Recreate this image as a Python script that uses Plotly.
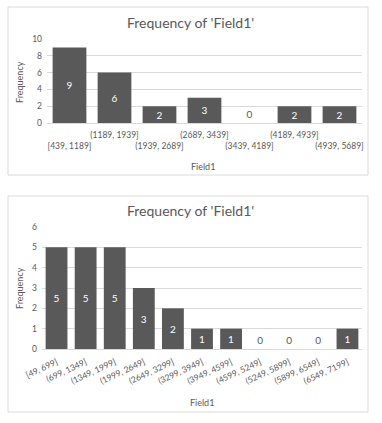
import plotly.graph_objects as go

# Chart 1
bins1 = ["[439, 1189]", "(1189, 1939]", "(1939, 2689]", "(2689, 3439]",
         "(3439, 4189]", "(4189, 4939]", "(4939, 5689]"]
freq1 = [9, 6, 2, 3, 0, 2, 2]

# Chart 2
bins2 = ["[49, 699]", "(699, 1349]", "(1349, 1999]", "(1999, 2649]",
         "(2649, 3299]", "(3299, 3949]", "(3949, 4599]", "(4599, 5249]",
         "(5249, 5899]", "(5899, 6549]", "(6549, 7199]"]
freq2 = [5, 5, 5, 3, 2, 1, 1, 0, 0, 0, 1]

title_text = "Frequency of 'Field1'"
xlabel = "Field1"
ylabel = "Frequency"

W, H = 382, 423
def px(x):
    return x / W
def py(y):
    return 1 - y / H

FONT = "Lato, Carlito, Calibri, sans-serif"
BAR = "#595959"
GRID = "#d9d9d9"
TXT = "#595959"

fig = go.Figure()

def pos(vals):
    return ["outside" if v == 0 else "inside" for v in vals]

for xs, ys, xa, ya in [(bins1, freq1, "x", "y"), (bins2, freq2, "x2", "y2")]:
    fig.add_trace(go.Bar(
        x=list(range(len(xs))), y=ys, xaxis=xa, yaxis=ya,
        marker=dict(color=BAR, line=dict(width=0)),
        text=[str(v) for v in ys], textposition=pos(ys), textangle=0,
        insidetextanchor="middle", cliponaxis=False,
        textfont=dict(color=TXT, size=10, family=FONT),
        insidetextfont=dict(color="white", size=10, family=FONT),
        outsidetextfont=dict(color=TXT, size=10, family=FONT),
        showlegend=False, hoverinfo="skip",
    ))

tick1 = [("<br>" + b) if i % 2 == 0 else b for i, b in enumerate(bins1)]

ann = dict(xref="paper", yref="paper", showarrow=False, xanchor="center", yanchor="middle")
TF = dict(size=8.5, color=TXT)

fig.update_layout(
    width=W, height=H,
    margin=dict(l=0, r=0, t=0, b=0, autoexpand=False),
    paper_bgcolor="white", plot_bgcolor="white",
    font=dict(family=FONT, color=TXT, size=9),
    bargap=0.25,
    uniformtext=dict(minsize=8, mode="show"),
    xaxis=dict(domain=[px(47), px(362)], range=[-0.5, len(bins1) - 0.5], anchor="y",
               automargin=False, ticklabelstandoff=4,
               tickmode="array", tickvals=list(range(len(bins1))), ticktext=tick1,
               tickangle=0, showgrid=False, zeroline=False, showline=True,
               linecolor=GRID, ticks="", tickfont=TF),
    yaxis=dict(domain=[py(123), py(39)], range=[0, 10], dtick=2, anchor="x",
               automargin=False, ticklabelstandoff=4,
               showgrid=True, gridcolor=GRID, zeroline=False, showline=False,
               ticks="", tickfont=TF),
    xaxis2=dict(domain=[px(42), px(362)], range=[-0.5, len(bins2) - 0.5], anchor="y2",
                automargin=False, ticklabelstandoff=4,
                tickmode="array", tickvals=list(range(len(bins2))), ticktext=bins2,
                tickangle=-25, showgrid=False, zeroline=False, showline=True,
                linecolor=GRID, ticks="", tickfont=TF),
    yaxis2=dict(domain=[py(349), py(227)], range=[0, 6], dtick=1, anchor="x2",
                automargin=False, ticklabelstandoff=4,
                showgrid=True, gridcolor=GRID, zeroline=False, showline=False,
                ticks="", tickfont=TF),
    shapes=[
        dict(type="rect", xref="paper", yref="paper",
             x0=px(8), x1=px(368), y0=py(175), y1=py(7),
             line=dict(color="#d9d9d9", width=1), layer="below"),
        dict(type="rect", xref="paper", yref="paper",
             x0=px(8), x1=px(368), y0=py(412), y1=py(196),
             line=dict(color="#d9d9d9", width=1), layer="below"),
    ],
    annotations=[
        dict(text=title_text, x=px(190), y=py(23),
             font=dict(size=14, color=TXT, family=FONT), **ann),
        dict(text=title_text, x=px(190), y=py(211),
             font=dict(size=14, color=TXT, family=FONT), **ann),
        dict(text=xlabel, x=px(203), y=py(166),
             font=dict(size=9, color=TXT, family=FONT), **ann),
        dict(text=xlabel, x=px(202), y=py(402),
             font=dict(size=9, color=TXT, family=FONT), **ann),
        dict(text=ylabel, x=px(19), y=py(82), textangle=-90,
             font=dict(size=9, color=TXT, family=FONT), **ann),
        dict(text=ylabel, x=px(19), y=py(288), textangle=-90,
             font=dict(size=9, color=TXT, family=FONT), **ann),
    ],
)

fig.write_html("out.html", config={"displayModeBar": False},
               post_script="document.body.style.margin='0';")
